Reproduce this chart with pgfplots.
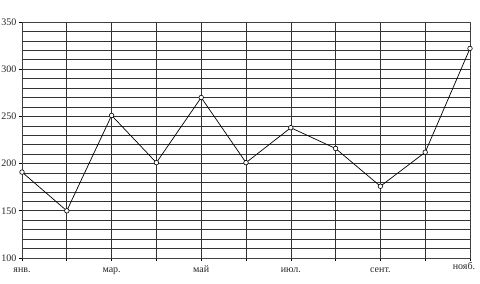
\documentclass[border=0pt]{standalone}
\usepackage{fontspec}
\setmainfont{Liberation Serif}
\usepackage{pgfplots}
\pgfplotsset{compat=1.18}
\begin{document}
\begin{tikzpicture}
\begin{axis}[
 scale only axis, width=448pt, height=236pt,
 xmin=1, xmax=11, ymin=100, ymax=350,
 xtick={1,...,11},
 xticklabels={янв.,,мар.,,май,,июл.,,сент.,,{\raisebox{3pt}{нояб.}\kern12pt\relax}},
 ytick={100,150,...,350},
 minor ytick={110,120,...,340},
 grid=both,
 major grid style={black!80, line width=0.6pt},
 minor grid style={black!80, line width=0.6pt},
 axis line style={black!75, line width=0.8pt},
 tick style={black, line width=0.6pt},
 tick align=outside, major tick length=3pt, minor tick length=0pt,
 xtick pos=bottom, ytick pos=left,
 tick label style={font=\fontsize{10}{12}\selectfont, text=black!85},
 xticklabel style={text height=1.5ex, text depth=0.3ex, yshift=-1.5pt},
 yticklabel style={xshift=1pt},
 /pgf/number format/assume math mode=true,
]
\addplot[black, line width=0.7pt, mark=*, mark size=2.3pt,
 mark options={fill=white, line width=0.6pt}] coordinates {
 (1,191) (2,150) (3,251) (4,201) (5,270) (6,201) (7,238) (8,216) (9,176) (10,212) (11,322)
};
\end{axis}
\pgfresetboundingbox
\useasboundingbox ([shift={(-22pt,-26pt)}]current axis.south west) rectangle ([shift={(10pt,22pt)}]current axis.north east);
\end{tikzpicture}
\end{document}
